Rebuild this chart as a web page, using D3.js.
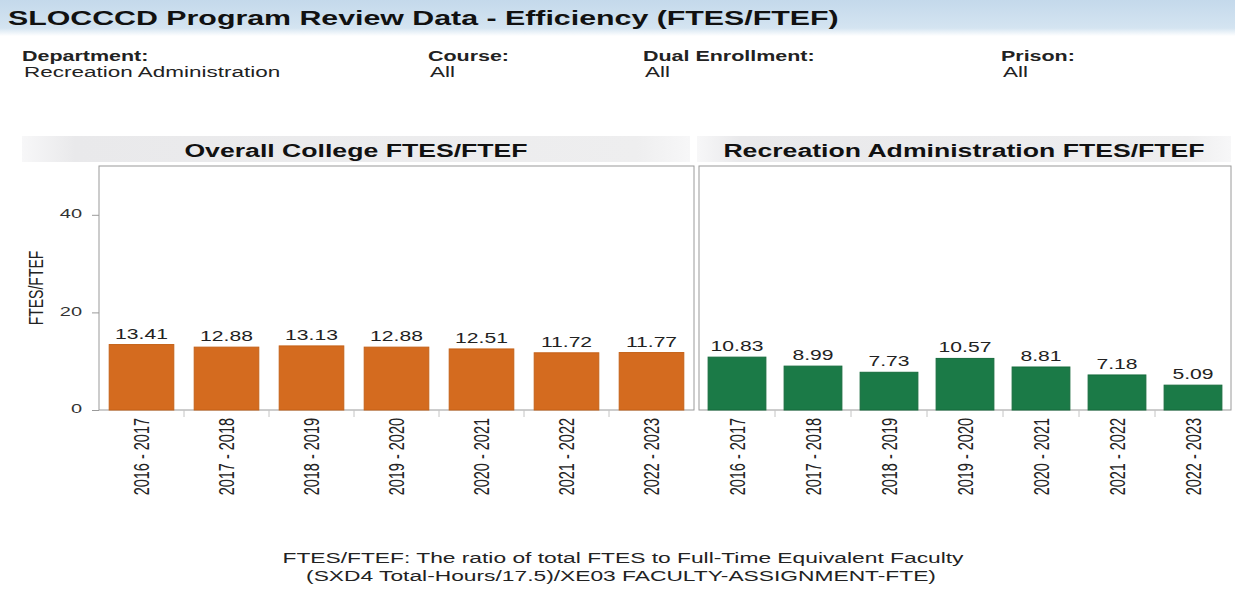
<!DOCTYPE html>
<html>
<head>
<meta charset="utf-8">
<script src="https://cdn.jsdelivr.net/npm/d3@7"></script>
<style>
  body { margin: 0; background: #fff; }
  svg { display: block; font-family: "Liberation Sans", Arial, sans-serif; }
</style>
</head>
<body>
<div id="chart"></div>
<script>
// data
var years = ["2016 - 2017", "2017 - 2018", "2018 - 2019", "2019 - 2020", "2020 - 2021", "2021 - 2022", "2022 - 2023"];
var collegeValues = [13.41, 12.88, 13.13, 12.88, 12.51, 11.72, 11.77];
var deptValues = [10.83, 8.99, 7.73, 10.57, 8.81, 7.18, 5.09];
var yTicks = [0, 20, 40];
var filterLabels = ["Department:", "Course:", "Dual Enrollment:", "Prison:"];
var filterValues = ["Recreation Administration", "All", "All", "All"];

var w = 1235, h = 594,
  sx = 1.48,          // the report is stretched sideways
  plotTop = 166, base = 410,
  orange = "#d46b1f", green = "#1b7a47";

var svg = d3.select("#chart").append("svg")
  .attr("width", w).attr("height", h);

var defs = svg.append("defs");
var g1 = defs.append("linearGradient").attr("id", "titleBg")
  .attr("x1", 0).attr("y1", 0).attr("x2", 0).attr("y2", 1);
g1.append("stop").attr("offset", "0%").attr("stop-color", "#c4d9eb");
g1.append("stop").attr("offset", "78%").attr("stop-color", "#d4e4f1");
g1.append("stop").attr("offset", "100%").attr("stop-color", "#ffffff");

var g2 = defs.append("linearGradient").attr("id", "panelBg")
  .attr("x1", 0).attr("y1", 0).attr("x2", 1).attr("y2", 0);
g2.append("stop").attr("offset", "0%").attr("stop-color", "#f7f7f8");
g2.append("stop").attr("offset", "8%").attr("stop-color", "#e9e9eb");
g2.append("stop").attr("offset", "92%").attr("stop-color", "#eeeeef");
g2.append("stop").attr("offset", "100%").attr("stop-color", "#f7f7f8");

function stretched(sel, x, y, extra) {
  return sel.attr("transform", "translate(" + x + "," + y + ") scale(" + sx + ",1)" + (extra || ""));
}

// title bar
svg.append("rect").attr("x", 0).attr("y", 0).attr("width", w).attr("height", 36)
  .attr("fill", "url(#titleBg)");
stretched(svg.append("text"), 8, 25)
  .attr("font-size", 20.5).attr("font-weight", "bold").attr("fill", "#111")
  .text("SLOCCCD Program Review Data - Efficiency (FTES/FTEF)");

// filter header
var filterX = [22, 428, 643, 1001];
filterLabels.forEach(function(d, i) {
  stretched(svg.append("text"), filterX[i], 61)
    .attr("font-size", 14.5).attr("font-weight", "bold").attr("fill", "#222").text(d);
  stretched(svg.append("text"), filterX[i] + 2, 77)
    .attr("font-size", 15.2).attr("fill", "#222").text(filterValues[i]);
});

var y = d3.scaleLinear().domain([0, 50]).range([base, plotTop]);

function panel(x0, x1, bandX0, bandX1, title, values, color, stroke) {
  var x = d3.scaleBand().domain(years).range([x0, x1])
    .paddingInner(0.24).paddingOuter(0.12);
  var g = svg.append("g");

  g.append("rect").attr("x", bandX0).attr("y", 136)
    .attr("width", bandX1 - bandX0).attr("height", 26)
    .attr("fill", "url(#panelBg)");
  stretched(g.append("text"), (bandX0 + bandX1) / 2, 157)
    .attr("text-anchor", "middle").attr("font-size", 18).attr("font-weight", "bold")
    .attr("fill", "#111").text(title);

  g.append("rect").attr("x", x0).attr("y", plotTop).attr("width", x1 - x0).attr("height", base - plotTop)
    .attr("fill", "none").attr("stroke", "#9a9a9a");

  // separators between categories
  g.selectAll(".sep").data(d3.range(1, years.length)).enter().append("line")
    .attr("x1", function(i) { return x0 + i * x.step(); })
    .attr("x2", function(i) { return x0 + i * x.step(); })
    .attr("y1", base).attr("y2", base + 7)
    .attr("stroke", "#c4c4c4");

  g.selectAll(".bar").data(values).enter().append("rect")
    .attr("x", function(d, i) { return x(years[i]); })
    .attr("y", function(d) { return y(d); })
    .attr("width", x.bandwidth())
    .attr("height", function(d) { return base - y(d); })
    .attr("fill", color).attr("stroke", stroke).attr("stroke-width", 1);

  g.selectAll(".val").data(values).enter().append("text")
    .attr("transform", function(d, i) {
      return "translate(" + (x(years[i]) + x.bandwidth() / 2) + "," + (y(d) - 6) + ") scale(" + (sx * 0.95) + ",1)";
    })
    .attr("text-anchor", "middle").attr("font-size", 15).attr("fill", "#222")
    .text(function(d) { return d.toFixed(2); });

  var xAxis = g.append("g").attr("transform", "translate(0," + base + ")")
    .call(d3.axisBottom(x).tickSize(0).tickSizeOuter(0));
  xAxis.select(".domain").remove();
  xAxis.selectAll("text")
    .attr("x", 0).attr("y", 0).attr("dy", "0.35em")
    .attr("transform", "translate(0,8) scale(" + sx + ",1) rotate(-90)")
    .attr("text-anchor", "end").attr("font-size", 14.5)
    .attr("font-family", "Liberation Sans, Arial, sans-serif").attr("fill", "#222");
}

panel(99, 694, 22, 690, "Overall College FTES/FTEF", collegeValues, orange, "#c46117");
panel(699, 1231, 697, 1231, "Recreation Administration FTES/FTEF", deptValues, green, "#156b3c");

// y axis
var yAxis = svg.append("g").attr("transform", "translate(99,0)")
  .call(d3.axisLeft(y).tickValues(yTicks).tickSize(7).tickSizeOuter(0));
yAxis.select(".domain").remove();
yAxis.selectAll("line").attr("stroke", "#9a9a9a");
yAxis.selectAll("text")
  .attr("x", -17 / sx)
  .attr("dy", "0.2em")
  .attr("transform", "scale(" + sx + ",1)")
  .attr("font-size", 13.5).attr("font-family", "Liberation Sans, Arial, sans-serif")
  .attr("fill", "#333");

stretched(svg.append("text"), 36, 288, " rotate(-90)")
  .attr("text-anchor", "middle").attr("dy", "0.35em")
  .attr("font-size", 14).attr("fill", "#222").text("FTES/FTEF");

// footnote
stretched(svg.append("text"), 623, 563)
  .attr("text-anchor", "middle").attr("font-size", 15.4).attr("fill", "#222")
  .text("FTES/FTEF: The ratio of total FTES to Full-Time Equivalent Faculty");
stretched(svg.append("text"), 621, 581)
  .attr("text-anchor", "middle").attr("font-size", 15.4).attr("fill", "#222")
  .text("(SXD4 Total-Hours/17.5)/XE03 FACULTY-ASSIGNMENT-FTE)");
</script>
</body>
</html>
